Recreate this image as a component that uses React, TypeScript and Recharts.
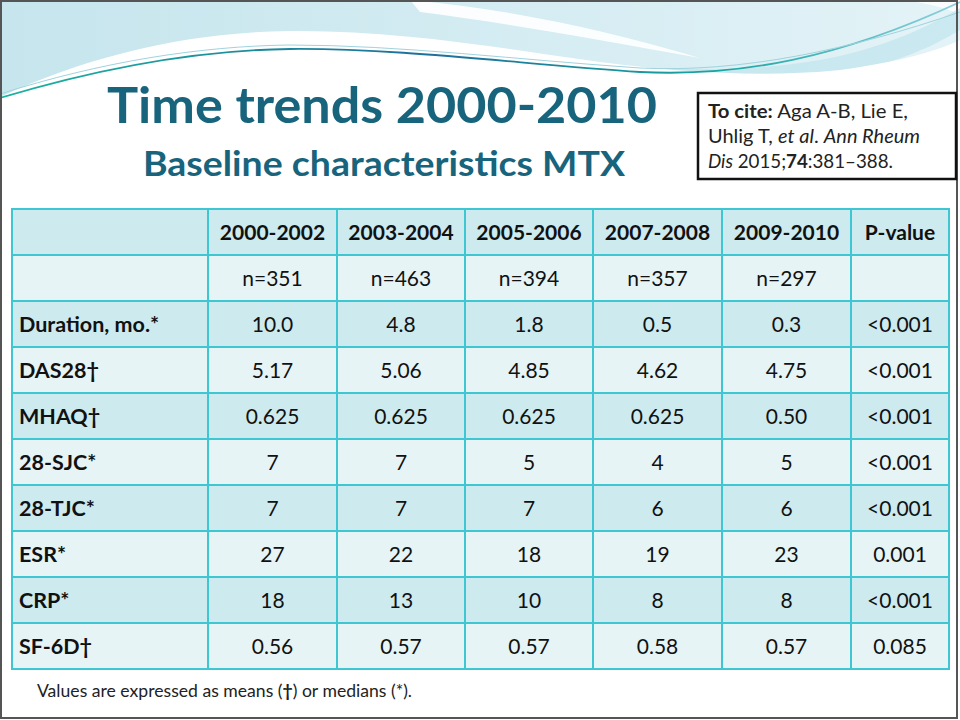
import { BarChart, Bar, XAxis, YAxis } from "recharts";

// table content
const periods = ["2000-2002", "2003-2004", "2005-2006", "2007-2008", "2009-2010"];
const sampleSizes = ["n=351", "n=463", "n=394", "n=357", "n=297"];
const variables = ["Duration, mo.*", "DAS28†", "MHAQ†", "28-SJC*", "28-TJC*", "ESR*", "CRP*", "SF-6D†"];
const durationMo = ["10.0", "4.8", "1.8", "0.5", "0.3"];
const das28 = ["5.17", "5.06", "4.85", "4.62", "4.75"];
const mhaq = ["0.625", "0.625", "0.625", "0.625", "0.50"];
const sjc28 = ["7", "7", "5", "4", "5"];
const tjc28 = ["7", "7", "7", "6", "6"];
const esr = ["27", "22", "18", "19", "23"];
const crp = ["18", "13", "10", "8", "8"];
const sf6d = ["0.56", "0.57", "0.57", "0.58", "0.57"];
const pValues = ["<0.001", "<0.001", "<0.001", "<0.001", "<0.001", "0.001", "<0.001", "0.085"];

// layout: column widths of the table (px along the x axis)
const colWidths = [196, 129, 128, 128, 129, 129, 98];
const totalWidth = colWidths.reduce((a, b) => a + b, 0);

const DARK_ROW = "#cdeaef";
const LIGHT_ROW = "#e6f4f6";
const BORDER = "#3ec7d3";
const TITLE = "#17647c";
const FONT = "Lato, 'Open Sans', sans-serif";

const valueRows = [durationMo, das28, mhaq, sjc28, tjc28, esr, crp, sf6d];

const tableRows: string[][] = [
  ["", ...periods, "P-value"],
  ["", ...sampleSizes, ""],
  ...variables.map((v, i) => [v, ...valueRows[i], pValues[i]]),
];

const data = tableRows.map((cells, r) => {
  const row: Record<string, any> = { key: `r${r}`, rowIndex: r, cells };
  colWidths.forEach((w, c) => {
    row[`w${c}`] = w;
  });
  return row;
});

const renderCell = (col: number) => (props: any) => {
  const { x, y, width, height, payload } = props;
  const r = payload.rowIndex;
  const text = payload.cells[col];
  const bold = r === 0 || col === 0;
  return (
    <g>
      <rect
        x={x}
        y={y}
        width={width}
        height={height}
        fill={r % 2 === 0 ? DARK_ROW : LIGHT_ROW}
        stroke={BORDER}
        strokeWidth={2}
      />
      {text ? (
        <text
          x={col === 0 ? x + 7 : x + width / 2}
          y={y + height / 2 + 8}
          textAnchor={col === 0 ? "start" : "middle"}
          fontFamily={FONT}
          fontSize={col === 0 ? 21.5 : 21}
          fontWeight={bold ? 700 : 400}
          fill="#111"
        >
          {text}
        </text>
      ) : null}
    </g>
  );
};

function SlideBackground() {
  return (
    <svg width={960} height={720} style={{ position: "absolute", left: 0, top: 0 }}>
      <defs>
        <linearGradient id="topBlue" x1="0" y1="0" x2="1" y2="0">
          <stop offset="0%" stopColor="#c6e5ed" />
          <stop offset="60%" stopColor="#d6edf3" />
          <stop offset="100%" stopColor="#e4f3f7" />
        </linearGradient>
        <linearGradient id="tealLine" x1="0" y1="0" x2="1" y2="0">
          <stop offset="0%" stopColor="#1bb3a0" />
          <stop offset="45%" stopColor="#1f6f9a" />
          <stop offset="75%" stopColor="#18a6a0" />
          <stop offset="100%" stopColor="#8fd0dc" />
        </linearGradient>
      </defs>
      <rect x={0} y={0} width={960} height={720} fill="#ffffff" />
      <rect x={0} y={0} width={960} height={115} fill="url(#topBlue)" />
      {/* white streak across the top */}
      <path d="M410,0 C500,8 600,28 700,58 C600,40 500,22 420,12 Z" fill="#ffffff" opacity={0.9} />
      <path d="M900,0 L960,0 L960,14 C940,6 920,2 900,0 Z" fill="#ffffff" opacity={0.8} />
      {/* lighter ribbon above the line on the right */}
      <path d="M560,60 C660,72 760,74 840,56 C900,42 935,22 960,8 L960,30 C930,48 890,66 830,76 C740,86 650,80 560,66 Z" fill="#bfe4ec" opacity={0.7} />
      {/* white body below the swoosh */}
      <path
        d="M0,97 C90,55 190,32 290,31 C400,30 500,48 600,62 C680,72 760,78 840,70 C900,62 940,50 960,40 L960,720 L0,720 Z"
        fill="#ffffff"
      />
      <path
        d="M0,98 C100,68 200,50 290,49 C400,48 520,64 640,72 C740,77 840,58 960,2"
        fill="none"
        stroke="url(#tealLine)"
        strokeWidth={1.8}
      />
      <path
        d="M0,94 C100,62 200,46 290,45 C400,45 520,60 640,68 C740,73 850,50 960,12"
        fill="none"
        stroke="#9fd3de"
        strokeWidth={1}
      />
      <rect x={1} y={1} width={956} height={717} fill="none" stroke="#555" strokeWidth={2} />

      <text x={107} y={123} fontFamily={FONT} fontWeight={700} fontSize={50} fill={TITLE} textLength={550} lengthAdjust="spacingAndGlyphs">
        Time trends 2000-2010
      </text>
      <text x={143} y={176} fontFamily={FONT} fontWeight={700} fontSize={34} fill={TITLE} textLength={482} lengthAdjust="spacingAndGlyphs">
        Baseline characteristics MTX
      </text>

      <rect x={698} y={93} width={258} height={86} fill="#ffffff" stroke="#111" strokeWidth={2.5} />
      <text x={708} y={118} fontFamily={FONT} fontSize={19} fill="#222" textLength={200} lengthAdjust="spacingAndGlyphs">
        <tspan fontWeight={700}>To cite:</tspan> Aga A-B, Lie E,
      </text>
      <text x={708} y={143} fontFamily={FONT} fontSize={19} fill="#222" textLength={212} lengthAdjust="spacingAndGlyphs">
        Uhlig T, <tspan fontStyle="italic">et al</tspan>. <tspan fontStyle="italic">Ann Rheum</tspan>
      </text>
      <text x={708} y={168} fontFamily={FONT} fontSize={19} fill="#222" textLength={185} lengthAdjust="spacingAndGlyphs">
        <tspan fontStyle="italic">Dis</tspan> 2015;<tspan fontWeight={700}>74</tspan>:381–388.
      </text>

      <text x={37} y={697} fontFamily={FONT} fontSize={17.5} fill="#222" textLength={375} lengthAdjust="spacingAndGlyphs">
        Values are expressed as means (<tspan fontWeight={700}>†</tspan>) or medians (*).
      </text>
    </svg>
  );
}

export default function App() {
  return (
    <div style={{ position: "absolute", left: 0, top: 0, width: 960, height: 720, overflow: "hidden" }}>
      <SlideBackground />
      <div style={{ position: "absolute", left: 0, top: 0 }}>
        <BarChart
          width={960}
          height={720}
          data={data}
          layout="vertical"
          barCategoryGap={0}
          barGap={0}
          margin={{ top: 209, right: 11, bottom: 51, left: 12 }}
        >
          <XAxis type="number" hide domain={[0, totalWidth]} />
          <YAxis type="category" dataKey="key" hide />
          {colWidths.map((_, c) => (
            <Bar
              key={c}
              dataKey={`w${c}`}
              stackId="table"
              isAnimationActive={false}
              shape={renderCell(c)}
              activeBar={false}
            />
          ))}
        </BarChart>
      </div>
    </div>
  );
}
